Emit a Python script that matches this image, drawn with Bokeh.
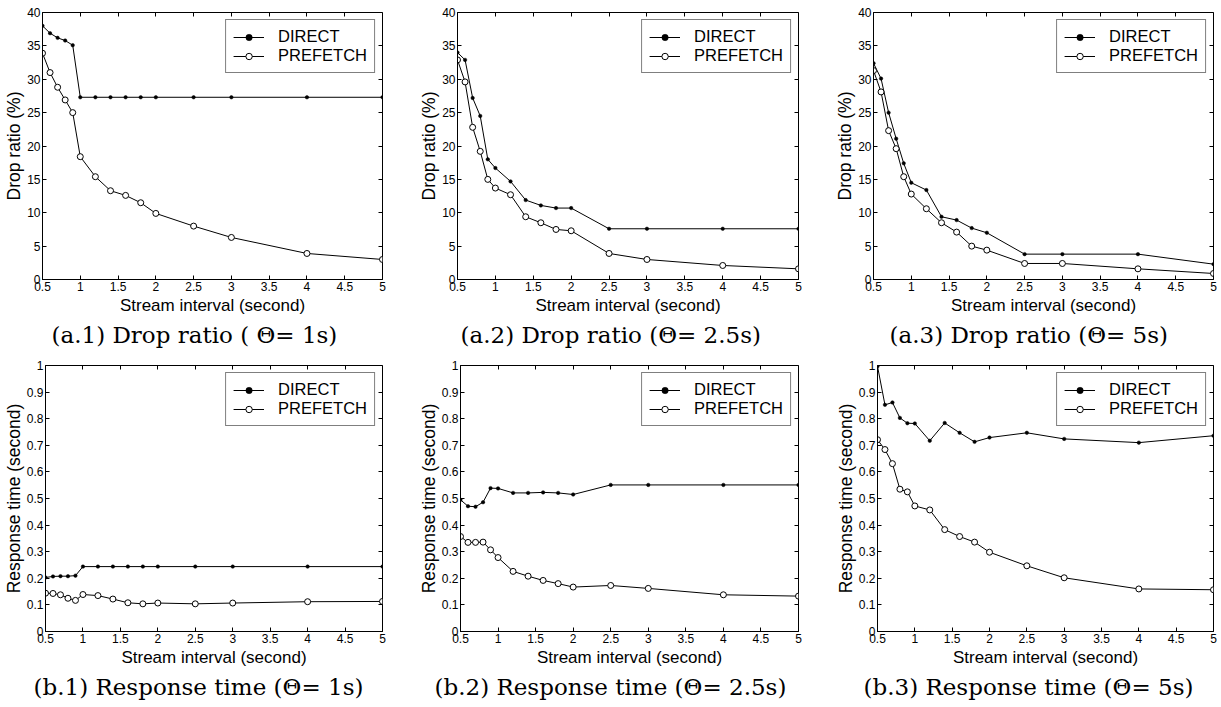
from bokeh.plotting import figure
from bokeh.layouts import column, row
from bokeh.models import Range1d, FixedTicker, LinearAxis, Title
from bokeh.embed import file_html
from bokeh.resources import INLINE

# ---------------- data ----------------
x = [0.5, 0.6, 0.7, 0.8, 0.9, 1.0, 1.2, 1.4, 1.6, 1.8, 2.0, 2.5, 3.0, 4.0, 5.0]

x_ticks = [0.5, 1, 1.5, 2, 2.5, 3, 3.5, 4, 4.5, 5]
x_tick_labels = ["0.5", "1", "1.5", "2", "2.5", "3", "3.5", "4", "4.5", "5"]

drop_ticks = [0, 5, 10, 15, 20, 25, 30, 35, 40]
drop_tick_labels = ["0", "5", "10", "15", "20", "25", "30", "35", "40"]

resp_ticks = [0, 0.1, 0.2, 0.3, 0.4, 0.5, 0.6, 0.7, 0.8, 0.9, 1]
resp_tick_labels = ["0", "0.1", "0.2", "0.3", "0.4", "0.5", "0.6", "0.7", "0.8", "0.9", "1"]

series_names = ["DIRECT", "PREFETCH"]

drop_direct_1 = [38.0, 36.9, 36.2, 35.8, 35.1, 27.3, 27.3, 27.3, 27.3, 27.3, 27.3, 27.3, 27.3, 27.3, 27.3]
drop_prefetch_1 = [33.9, 31.0, 28.8, 26.9, 25.0, 18.4, 15.4, 13.3, 12.6, 11.5, 9.9, 8.0, 6.3, 3.9, 3.0]

drop_direct_2 = [34.0, 32.9, 27.2, 24.5, 18.0, 16.7, 14.7, 11.9, 11.1, 10.7, 10.7, 7.6, 7.6, 7.6, 7.6]
drop_prefetch_2 = [32.9, 29.6, 22.8, 19.2, 15.0, 13.7, 12.7, 9.4, 8.5, 7.5, 7.3, 3.9, 3.0, 2.1, 1.6]

drop_direct_3 = [32.4, 30.1, 25.0, 21.1, 17.4, 14.5, 13.4, 9.4, 8.9, 7.7, 7.0, 3.8, 3.8, 3.8, 2.3]
drop_prefetch_3 = [31.3, 28.1, 22.3, 19.6, 15.4, 12.8, 10.6, 8.5, 7.1, 5.0, 4.4, 2.4, 2.4, 1.6, 0.9]

resp_direct_1 = [0.203, 0.207, 0.208, 0.208, 0.210, 0.244, 0.244, 0.244, 0.244, 0.244, 0.244, 0.244, 0.244, 0.244, 0.244]
resp_prefetch_1 = [0.144, 0.143, 0.138, 0.125, 0.117, 0.139, 0.135, 0.122, 0.108, 0.104, 0.107, 0.104, 0.107, 0.112, 0.113]

resp_direct_2 = [0.495, 0.471, 0.469, 0.486, 0.539, 0.538, 0.521, 0.521, 0.523, 0.521, 0.515, 0.551, 0.551, 0.551, 0.551]
resp_prefetch_2 = [0.357, 0.335, 0.335, 0.336, 0.307, 0.278, 0.226, 0.208, 0.192, 0.180, 0.167, 0.173, 0.162, 0.138, 0.133]

resp_direct_3 = [0.997, 0.852, 0.861, 0.803, 0.783, 0.782, 0.717, 0.784, 0.747, 0.713, 0.729, 0.747, 0.724, 0.710, 0.736]
resp_prefetch_3 = [0.721, 0.684, 0.631, 0.535, 0.525, 0.472, 0.457, 0.383, 0.357, 0.336, 0.298, 0.247, 0.202, 0.160, 0.157]

drop_captions = ["(a.1) Drop ratio ( \u0398= 1s)", "(a.2) Drop ratio (\u0398= 2.5s)", "(a.3) Drop ratio (\u0398= 5s)"]
resp_captions = ["(b.1) Response time (\u0398= 1s)", "(b.2) Response time (\u0398= 2.5s)", "(b.3) Response time (\u0398= 5s)"]

x_label = "Stream interval (second)"
drop_label = "Drop ratio (%)"
resp_label = "Response time (second)"

SANS = "Liberation Sans"
SERIF = "DejaVu Serif"


def style_axis(ax, ticks, labels, show_labels=True):
    ax.ticker = FixedTicker(ticks=ticks)
    ax.major_tick_in = 4
    ax.major_tick_out = 0
    ax.minor_tick_line_color = None
    ax.axis_line_color = "black"
    ax.major_tick_line_color = "black"
    ax.axis_line_width = 1
    if show_labels:
        ax.major_label_overrides = dict(zip(ticks, labels))
        ax.major_label_text_font = SANS
        ax.major_label_text_font_size = "12px"
        ax.major_label_text_color = "black"
        ax.major_label_standoff = 2
    else:
        ax.major_label_text_color = None
        ax.major_label_text_font_size = "1px"
        ax.major_label_standoff = 0


def make_panel(direct, prefetch, ymax, yticks, ylabels, ylabel, caption,
               fw, fh, bl, br, bt, bb, cap_offset):
    p = figure(frame_width=fw, frame_height=fh, output_backend="svg", toolbar_location=None,
               x_range=Range1d(x_ticks[0], x_ticks[-1]), y_range=Range1d(0, ymax),
               min_border_left=bl, min_border_right=br, min_border_top=bt, min_border_bottom=bb)
    p.xgrid.grid_line_color = None
    p.ygrid.grid_line_color = None
    p.outline_line_color = "black"
    p.outline_line_width = 1
    p.background_fill_color = "white"
    p.border_fill_color = "white"

    style_axis(p.xaxis[0], x_ticks, x_tick_labels)
    style_axis(p.yaxis[0], yticks, ylabels)
    p.xaxis[0].axis_label = x_label
    p.yaxis[0].axis_label = ylabel
    for ax in (p.xaxis[0], p.yaxis[0]):
        ax.axis_label_text_font = SANS
        ax.axis_label_text_font_style = "normal"
        ax.axis_label_text_color = "black"
    p.xaxis[0].axis_label_text_font_size = "17px"
    p.yaxis[0].axis_label_text_font_size = "17.5px"
    p.xaxis[0].axis_label_standoff = 2
    p.yaxis[0].axis_label_standoff = 0

    # tick marks along the top and right edges of the box (no labels, no extra space)
    top = LinearAxis(fixed_location=ymax)
    style_axis(top, x_ticks, x_tick_labels, show_labels=False)
    p.add_layout(top, "above")
    right = LinearAxis(fixed_location=x_ticks[-1])
    style_axis(right, yticks, ylabels, show_labels=False)
    p.add_layout(right, "right")

    p.line(x, direct, line_color="black", line_width=1, legend_label=series_names[0])
    p.scatter(x, direct, marker="circle", size=3.5, fill_color="black", line_color="black",
              line_width=0.5, legend_label=series_names[0])
    p.line(x, prefetch, line_color="black", line_width=1, legend_label=series_names[1])
    p.scatter(x, prefetch, marker="circle", size=6, fill_color="white", line_color="black",
              line_width=1, legend_label=series_names[1])

    lg = p.legend[0]
    lg.location = "top_right"
    lg.margin = 7
    lg.padding = 7
    lg.spacing = 0
    lg.label_text_font = SANS
    lg.label_text_font_size = "16.5px"
    lg.label_text_color = "black"
    lg.label_height = 16
    lg.glyph_height = 16
    lg.glyph_width = 31
    lg.label_standoff = 14
    lg.border_line_color = "black"
    lg.border_line_width = 1
    lg.background_fill_color = "white"
    lg.background_fill_alpha = 1

    t = Title(text=caption, align="left", offset=cap_offset, text_font=SERIF,
              text_font_size="23px", text_font_style="normal", text_color="black",
              standoff=5)
    p.add_layout(t, "below")
    return p


top_frame_w = [340, 341, 340]
top_left = [42, 42, 42]
bot_frame_w = [337, 338, 336]
bot_left = [45, 45, 46]
right_b = [33, 33, 8]
cap_offsets_top = [9, 3, 16]
cap_offsets_bot = [-12, -26, -14]

top_sets = [(drop_direct_1, drop_prefetch_1), (drop_direct_2, drop_prefetch_2), (drop_direct_3, drop_prefetch_3)]
bot_sets = [(resp_direct_1, resp_prefetch_1), (resp_direct_2, resp_prefetch_2), (resp_direct_3, resp_prefetch_3)]

top_figs = []
for i, (d, pf) in enumerate(top_sets):
    top_figs.append(make_panel(d, pf, 40, drop_ticks, drop_tick_labels, drop_label, drop_captions[i],
                               top_frame_w[i], 267, top_left[i], right_b[i], 12, 72, cap_offsets_top[i]))
bot_figs = []
for i, (d, pf) in enumerate(bot_sets):
    bot_figs.append(make_panel(d, pf, 1, resp_ticks, resp_tick_labels, resp_label, resp_captions[i],
                               bot_frame_w[i], 266, bot_left[i], right_b[i], 14, 72, cap_offsets_bot[i]))

layout = column(row(*top_figs), row(*bot_figs))

open("out.html", "w").write(file_html(layout, INLINE))
